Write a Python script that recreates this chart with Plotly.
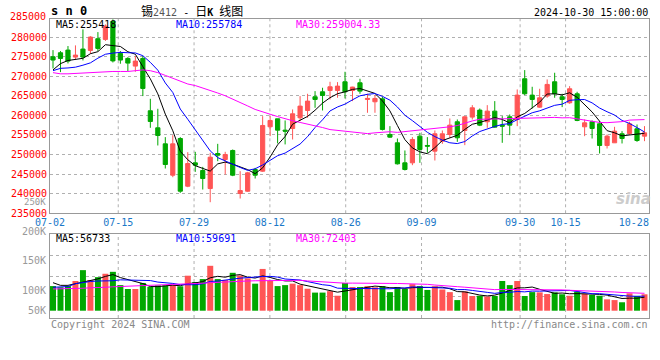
import plotly.graph_objects as go

# ---------------- data ----------------
dates = ["07-02","07-03","07-04","07-05","07-08","07-09","07-10","07-11","07-12","07-15",
         "07-16","07-17","07-18","07-19","07-22","07-23","07-24","07-25","07-26","07-29",
         "07-30","07-31","08-01","08-02","08-05","08-06","08-07","08-08","08-09","08-12",
         "08-13","08-14","08-15","08-16","08-19","08-20","08-21","08-22","08-23","08-26",
         "08-27","08-28","08-29","08-30","09-02","09-03","09-04","09-05","09-06","09-09",
         "09-10","09-11","09-12","09-13","09-18","09-19","09-20","09-23","09-24","09-25",
         "09-26","09-27","09-30","10-08","10-09","10-10","10-11","10-14","10-15","10-16",
         "10-17","10-18","10-21","10-22","10-23","10-24","10-25","10-28","10-29","10-30"]

open_ = [274960, 275980, 276660, 274870, 276920, 276580, 279560, 279390, 284000, 275810,
         274530, 272570, 274530, 261160, 256810, 252720, 244710, 254080, 241900, 247870,
         245910, 241300, 250250, 248720, 251020, 240030, 240620, 246160, 245740, 257070,
         259110, 256210, 256640, 259370, 261240, 264740, 266010, 266350, 266350, 268570,
         266350, 268310, 264050, 263460, 264220, 255110, 252980, 247870, 247870, 254680,
         252300, 250850, 253400, 255110, 258350, 256130, 259540, 261330, 258350, 261070,
         257490, 259620, 258940, 269340, 265160, 262090, 264910, 268570, 264740, 263200,
         265500, 257070, 258350, 257830, 252300, 252980, 255280, 255360, 256560, 254680]
close = [274110, 274530, 273850, 275380, 274870, 279990, 277090, 282800, 273900, 274110,
         273340, 273850, 266860, 258430, 254850, 247440, 252720, 240620, 247690, 247270,
         243860, 249310, 249820, 250000, 244710, 240790, 245310, 244710, 257410, 258690,
         256210, 255960, 260390, 262350, 263630, 264050, 265080, 267290, 267460, 266010,
         267210, 266180, 264310, 264310, 256390, 254430, 247610, 246160, 253830, 251270,
         252130, 255280, 255280, 257490, 254260, 259620, 261920, 257490, 261070, 256980,
         257240, 257490, 265160, 265500, 264050, 264480, 267890, 265500, 264050, 266780,
         258690, 258090, 256640, 252300, 254680, 255960, 254080, 257830, 253570, 255530]
high = [276660, 276410, 277690, 277860, 281950, 280200, 281260, 283220, 284500, 276410,
        274870, 275130, 275130, 264220, 261670, 254430, 254940, 254430, 250590, 250680,
        246840, 250420, 252720, 250680, 251270, 245740, 245560, 246590, 259790, 259790,
        259110, 258690, 261500, 264910, 265500, 266180, 267040, 268570, 268480, 271120,
        267290, 269340, 265500, 265160, 264740, 257240, 254080, 251020, 254430, 255530,
        254430, 256130, 256130, 259200, 258940, 259790, 262600, 261750, 262600, 263630,
        259790, 260220, 266610, 271550, 267290, 266780, 269170, 270870, 265500, 267460,
        266010, 258940, 258690, 258520, 255110, 257070, 255960, 258350, 257660, 257240]
low = [271980, 271040, 273250, 274280, 274020, 275730, 276410, 279000, 273500, 273170,
       271300, 271130, 264910, 256810, 252300, 246420, 244200, 240200, 241650, 245560,
       241050, 237810, 248290, 244880, 244460, 238750, 240450, 243860, 245560, 254680,
       252830, 252570, 253830, 258520, 259370, 261920, 261240, 264050, 264480, 264310,
       263630, 265500, 260650, 260650, 256130, 254260, 247440, 245910, 247270, 247870,
       250420, 248460, 252720, 254260, 253230, 252380, 258940, 257240, 256810, 256810,
       252980, 254940, 257240, 265160, 261750, 261920, 264480, 264480, 262090, 262950,
       258500, 254680, 254080, 250250, 251530, 252980, 252810, 254940, 253230, 253400]

# moving averages of price, in thousands
ma5_k = [271.6, 273.2, 274.0, 274.2, 274.56, 275.74, 276.26, 278.04, 277.74, 277.58,
         276.24, 275.6, 272.42, 269.32, 265.48, 260.3, 256.06, 250.8, 248.66, 247.14,
         246.44, 245.76, 247.6, 248.06, 247.54, 246.92, 246.12, 245.1, 246.58, 249.38,
         252.46, 254.6, 257.74, 258.74, 259.72, 261.3, 263.12, 264.5, 265.52, 266.0,
         266.62, 266.84, 266.24, 265.6, 263.68, 261.12, 257.4, 253.78, 251.68, 250.66,
         250.2, 251.74, 253.56, 254.3, 254.9, 256.4, 257.72, 258.16, 258.88, 259.42,
         258.94, 258.06, 259.6, 260.48, 261.9, 263.36, 265.44, 265.5, 265.22, 265.76,
         264.6, 262.64, 260.86, 258.5, 256.08, 255.54, 254.74, 254.98, 255.24, 255.42]
ma10_k = [271.4, 272.0, 272.1, 272.3, 272.8, 273.4, 274.6, 275.6, 275.9, 276.07,
          275.99, 275.93, 275.23, 273.53, 271.53, 268.27, 265.83, 261.61, 258.99, 256.31,
          253.37, 250.91, 249.2, 248.36, 247.34, 246.68, 245.94, 246.35, 247.32, 248.46,
          249.69, 250.36, 251.42, 252.66, 254.55, 256.88, 258.86, 261.12, 262.13, 262.86,
          263.96, 264.98, 265.37, 265.56, 264.84, 263.87, 262.12, 260.01, 258.64, 257.17,
          255.66, 254.57, 253.67, 252.99, 252.78, 253.3, 254.73, 255.86, 256.59, 257.16,
          257.67, 257.89, 258.88, 259.68, 260.66, 261.15, 261.75, 262.55, 262.85, 263.83,
          263.98, 264.04, 263.18, 261.86, 260.92, 260.07, 258.69, 257.92, 256.87, 255.74]
ma30_k = [270.9, 270.6, 270.6, 270.7, 270.9, 271.0, 271.0, 271.1, 271.2, 271.2,
          271.2, 271.4, 271.6, 271.4, 270.9, 270.2, 269.4, 268.6, 268.0, 267.6,
          267.0, 266.3, 265.7, 265.0, 264.2, 263.3, 262.4, 261.5, 260.8, 260.28,
          259.68, 259.07, 258.62, 258.18, 257.81, 257.28, 256.88, 256.36, 256.15, 255.88,
          255.67, 255.42, 255.33, 255.53, 255.58, 255.81, 255.64, 255.83, 256.03, 256.16,
          256.44, 256.64, 256.82, 257.07, 257.39, 258.02, 258.57, 259.0, 259.12, 259.06,
          259.1, 259.15, 259.31, 259.41, 259.43, 259.44, 259.53, 259.47, 259.36, 259.39,
          259.1, 258.83, 258.58, 258.18, 258.12, 258.17, 258.39, 258.78, 258.77, 258.91]

# volume, in thousands of lots
vol_k = [102, 97, 102, 123, 168, 127, 139, 153, 161, 106,
         90, 90, 115, 99, 105, 105, 106, 101, 145, 119,
         131, 186, 131, 127, 157, 146, 134, 112, 173, 124,
         102, 106, 112, 106, 91, 75, 75, 81, 62, 115,
         98, 98, 102, 97, 102, 77, 98, 90, 110, 102,
         86, 101, 88, 77, 44, 80, 61, 62, 59, 61,
         123, 106, 123, 61, 77, 76, 69, 76, 68, 62,
         79, 70, 65, 62, 47, 44, 35, 72, 61, 68]
vma5_k = [116, 105, 105, 112, 118.4, 123.4, 131.8, 142, 149.6, 137.2,
          129.8, 120, 112.4, 100, 99.8, 102.8, 106, 103.2, 112.4, 115.2,
          120.4, 136.4, 142.4, 138.8, 146.4, 149.4, 139, 135.2, 144.4, 137.8,
          129, 123.4, 123.4, 110, 103.4, 98, 91.8, 85.6, 76.8, 81.6,
          86.2, 90.8, 95, 102, 99.4, 95.2, 95.2, 92.8, 95.4, 95.4,
          97.2, 97.8, 97.4, 90.8, 79.2, 78, 70, 64.8, 61.2, 64.6,
          73.2, 82.2, 94.4, 94.8, 98, 88.6, 81.2, 71.8, 73.2, 70.2,
          70.8, 71, 68.8, 67.6, 64.6, 57.6, 50.6, 52, 51.8, 56]
vma10_k = [97, 98, 100, 112, 118, 121, 123, 123, 124, 127.8,
           126.6, 125.9, 127.2, 124.8, 118.5, 116.3, 113, 107.8, 106.2, 107.5,
           111.6, 121.2, 122.8, 125.6, 130.8, 134.9, 137.7, 138.8, 141.6, 142.1,
           139.2, 131.2, 129.3, 127.2, 120.6, 113.5, 107.6, 104.5, 93.4, 92.5,
           92.1, 91.3, 90.3, 89.4, 90.5, 90.7, 93, 93.9, 98.7, 97.4,
           96.2, 96.5, 95.1, 93.1, 87.3, 87.6, 83.9, 81.1, 76, 71.9,
           75.6, 76.1, 79.6, 78, 81.3, 80.9, 81.7, 83.1, 84, 84.1,
           79.7, 76.1, 70.3, 70.4, 67.4, 64.2, 60.8, 60.4, 59.7, 60.3]
vma30_k = [90, 90, 90, 91, 93, 95, 95, 97, 99, 100,
           101, 103, 104, 105, 106, 106, 107, 109, 111, 113,
           114, 116, 118, 120, 121, 122, 123, 124, 124.5, 125.8,
           125.8, 126.1, 126.4, 125.9, 123.3, 121.6, 119.4, 117, 113.7, 114,
           114.3, 114.6, 114.1, 114.1, 114, 113, 112.8, 112.4, 111.2, 110.7,
           109.2, 106.3, 104.9, 103.2, 99.5, 97.3, 94.8, 93.2, 89.4, 87.3,
           88, 88, 88.3, 86.8, 86.4, 86.4, 86.2, 86, 86.2, 84.5,
           83.8, 82.9, 81.7, 80.5, 78.7, 77.6, 75.5, 74.9, 73.2, 72.1]

price_ticks = [235000, 240000, 245000, 250000, 255000, 260000, 265000, 270000, 275000, 280000]
label_dates = ["07-02", "07-15", "07-29", "08-12", "08-26", "09-09", "09-30", "10-15", "10-28"]
grid_dates = ["07-15", "07-29", "08-12", "08-26", "09-09", "09-30", "10-15"]
vol_labels = ["250K", "200K", "150K", "100K", "50K"]

title_code = "sn0"
ma_text = ["MA5:255418", "MA10:255784", "MA30:259004.33"]
vma_text = ["MA5:56733", "MA10:59691", "MA30:72403"]

# ---------------- figure ----------------
RED = "#ff5555"
GREEN = "#00a800"
MONO = "DejaVu Sans Mono"
N = len(dates)
x = list(range(N))
# sina places the date grid on a slightly different step than the candles
def date_pos(d):
    return dates.index(d) * (600.0 / (N - 1)) / 7.5 - 0.4

fig = go.Figure()
fig.add_trace(go.Candlestick(
    x=x, open=open_, high=high, low=low, close=close,
    increasing=dict(line=dict(color=RED, width=1), fillcolor=RED),
    decreasing=dict(line=dict(color=GREEN, width=1), fillcolor=GREEN),
    whiskerwidth=0, xaxis="x", yaxis="y", hoverinfo="skip"))
for arr, col in [(ma5_k, "black"), (ma10_k, "#0000ff"), (ma30_k, "#ff00ff")]:
    fig.add_trace(go.Scatter(x=x, y=[v * 1000 for v in arr], mode="lines",
                             line=dict(color=col, width=1), xaxis="x", yaxis="y",
                             hoverinfo="skip"))

bar_colors = [RED if c > o else GREEN for o, c in zip(open_, close)]
fig.add_trace(go.Bar(x=x, y=[v * 1000 for v in vol_k], marker=dict(color=bar_colors, line=dict(width=0)),
                     width=0.8, xaxis="x2", yaxis="y2", hoverinfo="skip"))
for arr, col in [(vma5_k, "black"), (vma10_k, "#0000ff"), (vma30_k, "#ff00ff")]:
    fig.add_trace(go.Scatter(x=x, y=[v * 1000 for v in arr], mode="lines",
                             line=dict(color=col, width=1), xaxis="x2", yaxis="y2",
                             hoverinfo="skip"))

XR = [-0.4, N - 0.4]
frame = dict(showline=True, mirror=True, linecolor="#999999", linewidth=1, zeroline=False)
fig.update_layout(
    width=660, height=360, margin=dict(l=50, r=11, t=19, b=42),
    paper_bgcolor="white", plot_bgcolor="white", showlegend=False,
    font=dict(family=MONO, size=10, color="black"),
    boxgap=0.2,
    xaxis=dict(domain=[0, 1], range=XR, anchor="y", rangeslider=dict(visible=False),
               tickvals=[date_pos(d) for d in label_dates], ticktext=label_dates,
               tickfont=dict(family=MONO, size=10, color="#1a78c8"), ticks="",
               showgrid=False, automargin=False, **frame),
    yaxis=dict(domain=[0.3502, 1], range=[234980, 284600], tickvals=price_ticks,
               ticktext=[str(v) for v in price_ticks],
               tickfont=dict(family=MONO, size=10, color="#ff0000"), ticks="",
               showgrid=True, gridcolor="#b0b0b0", griddash="dot", gridwidth=1,
               automargin=False, **frame),
    xaxis2=dict(domain=[0, 1], range=XR, anchor="y2", showticklabels=False, ticks="",
                showgrid=False, automargin=False, **frame),
    yaxis2=dict(domain=[0, 0.2799], range=[-30200, 316400], tickvals=[57600, 143700, 230000],
                showticklabels=False, ticks="", showgrid=True, gridcolor="#b0b0b0",
                griddash="dot", gridwidth=1, automargin=False, **frame),
)

for d in grid_dates:
    for yr in ["y domain", "y2 domain"]:
        fig.add_shape(type="line", xref="x", yref=yr, x0=date_pos(d), x1=date_pos(d), y0=0, y1=1,
                      line=dict(color="#b0b0b0", width=1, dash="dot"), layer="below")

def py(px):
    return (318 - px) / 299.0

def pxx(px):
    return (px - 50) / 599.0

MS = "font-family:DejaVu Sans Mono;font-size:10px"
ann = []
ann.append(dict(x=pxx(49), y=py(11), text="<b>" + " ".join(title_code) + "</b>", xanchor="left",
                font=dict(family=MONO, size=12, color="black")))
ann.append(dict(x=pxx(139), y=py(10), xanchor="left",
                text=("锡<span style='" + MS + ";color:#555555'>2412</span>"
                      "<span style='" + MS + "'> - </span>日<span style='" + MS + ";font-weight:bold'>K</span>"
                      "<span style='" + MS + "'> </span>线图"),
                font=dict(family="Noto Sans CJK SC", size=12, color="black")))
ann.append(dict(x=pxx(650), y=py(12), xanchor="right", text="2024-10-30 15:00:00",
                font=dict(family=MONO, size=10, color="black")))
for t, xp, col in zip(ma_text, [54, 174, 294], ["black", "#0000ff", "#ff00ff"]):
    ann.append(dict(x=pxx(xp), y=py(24.5), xanchor="left", text=t, font=dict(family=MONO, size=10, color=col)))
for t, xp, col in zip(vma_text, [54, 174, 294], ["black", "#0000ff", "#ff00ff"]):
    ann.append(dict(x=pxx(xp), y=py(238.5), xanchor="left", text=t, font=dict(family=MONO, size=10, color=col)))
for t, yp, fs in zip(vol_labels, [202, 231, 260.7, 290, 310], [9, 10, 10, 10, 10]):
    ann.append(dict(x=pxx(47.5), y=py(yp), xanchor="right", text=t, font=dict(family=MONO, size=fs, color="#999999")))
ann.append(dict(x=pxx(47.5), y=py(16), xanchor="right", text="285000", font=dict(family=MONO, size=10, color="#ff0000")))
ann.append(dict(x=pxx(49), y=py(324), xanchor="left", text="Copyright 2024 SINA.COM",
                font=dict(family=MONO, size=10, color="#888888")))
ann.append(dict(x=pxx(650), y=py(324), xanchor="right", text="http://finance.sina.com.cn",
                font=dict(family=MONO, size=10, color="#888888")))
ann.append(dict(x=pxx(633), y=py(199), xanchor="center", text="<b><i>sina</i></b>",
                font=dict(family="DejaVu Sans", size=15, color="#cccccc")))
for a in ann:
    a.update(xref="paper", yref="paper", yanchor="middle", showarrow=False)
fig.update_layout(annotations=ann)

fig.write_html("out.html", config={"displayModeBar": False, "staticPlot": True},
               post_script="document.body.style.margin='0';document.body.style.overflow='hidden';")
